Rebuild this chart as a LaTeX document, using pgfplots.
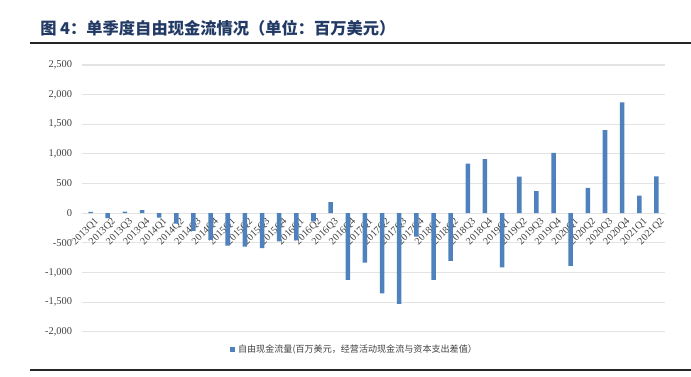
\documentclass[border=0pt]{standalone}
\usepackage{pgfplots}
\pgfplotsset{compat=1.18}
\usepackage{fontspec}
\setmainfont{Liberation Serif}
\newfontfamily\cjk{Noto Sans CJK SC}
\definecolor{barblue}{HTML}{4F81BD}
\definecolor{titleblue}{HTML}{223A64}
\definecolor{lblgray}{HTML}{404040}
\begin{document}
\begin{tikzpicture}
\useasboundingbox (0pt,0pt) rectangle (518.25pt,282.75pt);
\node[anchor=west, inner sep=0, text=titleblue, font=\cjk\bfseries\fontsize{12.2}{14}\selectfont] at (30pt,261.75pt) {图 4：单季度自由现金流情况（单位：百万美元）};
\draw[line width=1.6pt, black!85] (22.5pt,250.5pt) -- (518.25pt,250.5pt);
\draw[line width=1.3pt, black!85] (22.5pt,5.25pt) -- (518.25pt,5.25pt);
\begin{axis}[
  at={(61.5pt,34pt)}, anchor=south west,
  scale only axis, width=437.25pt, height=200pt,
  xmin=-0.5, xmax=33.5, ymin=-2000, ymax=2500,
  ytick={-2000,-1500,...,2500},
  xtick={0,...,33},
  xticklabels={2013Q1,2013Q2,2013Q3,2013Q4,2014Q1,2014Q2,2014Q3,2014Q4,2015Q1,2015Q2,2015Q3,2015Q4,2016Q1,2016Q2,2016Q3,2016Q4,2017Q1,2017Q2,2017Q3,2017Q4,2018Q1,2018Q2,2018Q3,2018Q4,2019Q1,2019Q2,2019Q3,2019Q4,2020Q1,2020Q2,2020Q3,2020Q4,2021Q1,2021Q2},
  xticklabel style={yshift=87.5pt, xshift=2.5pt, rotate=45, anchor=north east, inner sep=1pt, text=lblgray, font=\fontsize{7.6}{8}\selectfont},
  yticklabel style={xshift=-4pt, text=lblgray, font=\fontsize{7.8}{9}\selectfont},
  /pgf/number format/.cd, 1000 sep={,}, assume math mode=true, /pgfplots/.cd,
  ymajorgrids, grid style={draw=gray!22, line width=0.8pt},
  axis line style={draw=none},
  major tick length=0pt,
  legend style={at={(0.468,-0.0675)}, anchor=center, draw=none, fill=none, font=\cjk\fontsize{6.8}{8}\selectfont, text=lblgray, inner sep=1pt},
  legend image code/.code={\fill[barblue] (0pt,-2pt) rectangle (4pt,2pt);},
]
\addplot[ybar, bar width=3.4pt, fill=barblue, draw=none] coordinates {
(0,20) (1,-85) (2,25) (3,50) (4,-75) (5,-175) (6,-300) (7,-450)
(8,-550) (9,-565) (10,-590) (11,-475) (12,-458) (13,-140) (14,185) (15,-1125)
(16,-835) (17,-1355) (18,-1530) (19,-395) (20,-1125) (21,-805) (22,835) (23,910)
(24,-915) (25,615) (26,370) (27,1015) (28,-890) (29,425) (30,1400) (31,1870)
(32,295) (33,620)
};
\addlegendentry{自由现金流量(百万美元，经营活动现金流与资本支出差值）}
\end{axis}
\end{tikzpicture}
\end{document}
